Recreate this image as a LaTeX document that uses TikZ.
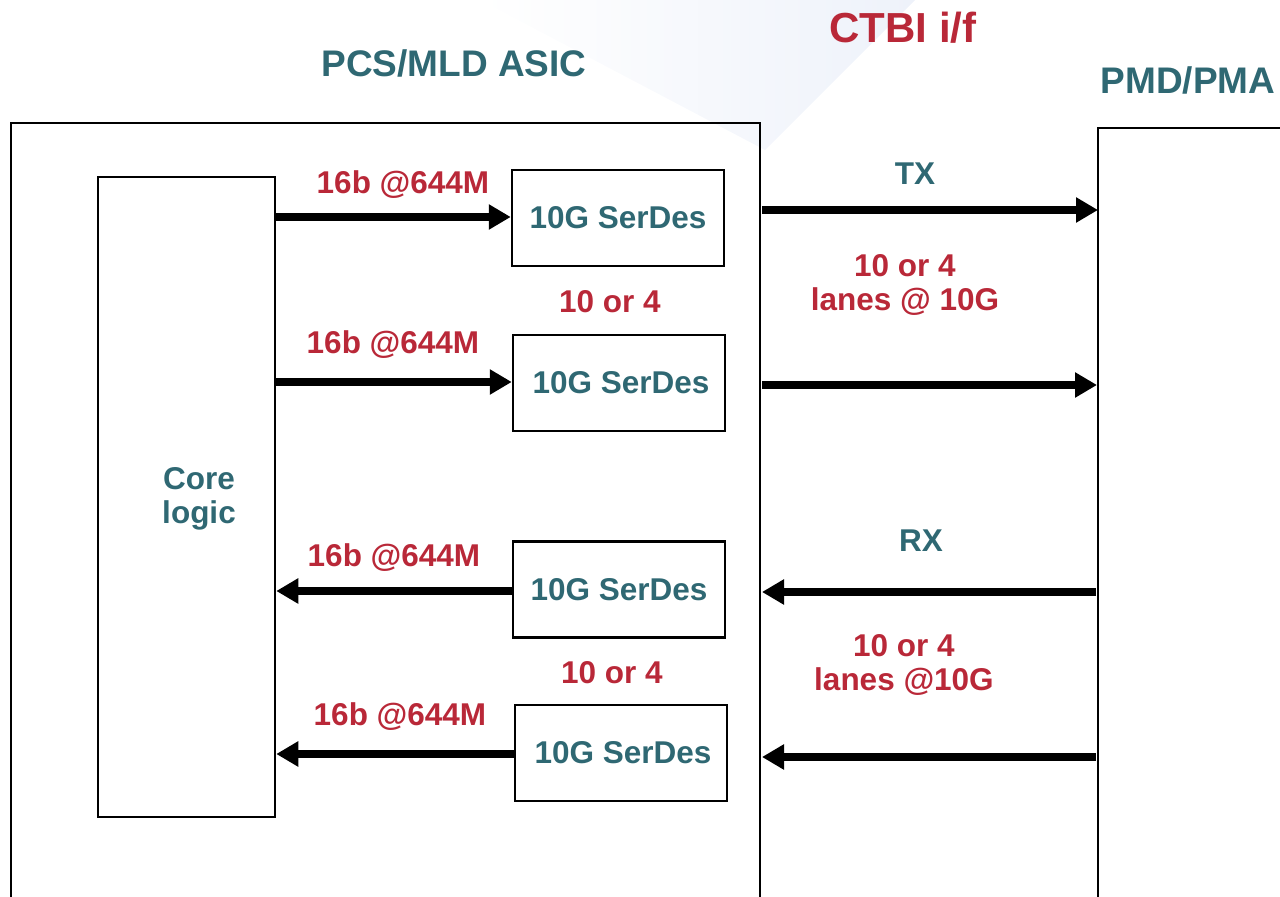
\documentclass[tikz,border=0pt]{standalone}
\usepackage{fontspec}
\setmainfont{Liberation Sans}
\usetikzlibrary{arrows.meta}
\definecolor{tealtxt}{RGB}{47,104,115}
\definecolor{redtxt}{RGB}{185,40,56}
\definecolor{haze}{RGB}{238,242,250}
\tikzset{
  box/.style={draw, line width=1.25pt, inner sep=0pt},
  serdes/.style={box, minimum width=106pt, minimum height=48pt, text=tealtxt,
    font=\bfseries\fontsize{15.75}{18}\selectfont},
  redlbl/.style={text=redtxt, align=center, inner sep=0pt,
    font=\bfseries\fontsize{15.75}{17}\selectfont},
  teallbl/.style={text=tealtxt, align=center, inner sep=0pt,
    font=\bfseries\fontsize{15.75}{17}\selectfont},
  title/.style={text=tealtxt, inner sep=0pt, font=\bfseries\fontsize{18.5}{20}\selectfont},
  flow/.style={line width=3.6pt, -{Triangle[length=11pt,width=12pt]}},
  frame/.style={line width=1.25pt}
}
\begin{document}
\begin{tikzpicture}[x=0.5pt,y=-0.5pt]
\useasboundingbox (0,0) rectangle (1280,897);
\clip (0,0) rectangle (1280,897);
% faint background wedge
\shade[left color=white, right color=haze] (480,0) -- (915,0) -- (765,150) -- cycle;

% titles
\node[title] (asictitle) at (454,63) {PCS/MLD ASIC};
\node[title] (pmdtitle) at (1188,80) {PMD/PMA};
\node[text=redtxt, inner sep=0pt, font=\bfseries\fontsize{21}{23}\selectfont] (ctbi) at (903,28) {CTBI i/f};

% ASIC frame (open at the bottom)
\coordinate (asicTL) at (11,123);
\coordinate (asicTR) at (760,123);
\draw[frame] (asicTL |- 0,900) -- (asicTL) -- (asicTR) -- (asicTR |- 0,900);
% PMD frame
\coordinate (pmdTL) at (1098,128);
\draw[frame] (pmdTL |- 0,900) -- (pmdTL) -- (1290,128);

% core logic
\node[box, minimum width=88.5pt, minimum height=320pt] (core) at (186.5,497) {};
\node[teallbl] (corelabel) at (199,499) {Core\\logic};

% SerDes blocks
\node[serdes] (s1) at (618,218) {\raisebox{-1.5pt}{10G SerDes}};
\node[serdes] (s2) at (619,383) {\hspace*{2pt}\raisebox{-1pt}{10G SerDes}};
\node[serdes] (s3) at (619,589.5) {\raisebox{-1pt}{10G SerDes}};
\node[serdes] (s4) at (621,753) {\hspace*{2pt}\raisebox{-1.5pt}{10G SerDes}};

% core <-> SerDes
\draw[flow] (core.east |- 0,217) -- (s1.west |- 0,217);
\draw[flow] (core.east |- 0,382) -- (s2.west |- 0,382);
\draw[flow] (s3.west |- 0,591) -- (core.east |- 0,591);
\draw[flow] (s4.west |- 0,754) -- (core.east |- 0,754);

\node[redlbl] (r1) at (403,185) {16b @644M};
\node[redlbl] (r2) at (393,345) {16b @644M};
\node[redlbl] (r3) at (394,558) {16b @644M};
\node[redlbl] (r4) at (400,717) {16b @644M};
\node[redlbl] (n1) at (610,302) {10 or 4};
\node[redlbl] (n2) at (612,673) {10 or 4};

% lanes across the CTBI interface
\coordinate (tx1a) at (762,210);  \coordinate (tx1b) at (1098,210);
\coordinate (tx2a) at (762,385);  \coordinate (tx2b) at (1097,385);
\coordinate (rx1a) at (1096,592); \coordinate (rx1b) at (762,592);
\coordinate (rx2a) at (1096,757); \coordinate (rx2b) at (762,757);
\draw[flow] (tx1a) -- (tx1b);
\draw[flow] (tx2a) -- (tx2b);
\draw[flow] (rx1a) -- (rx1b);
\draw[flow] (rx2a) -- (rx2b);

\node[teallbl] (tx) at (915,174) {TX};
\node[teallbl] (rx) at (921,541) {RX};
\node[redlbl] (txl) at (905,285) {10 or 4\\lanes @ 10G};
\node[redlbl] (rxl) at (904,665) {10 or 4\\lanes @10G};
\end{tikzpicture}
\end{document}
